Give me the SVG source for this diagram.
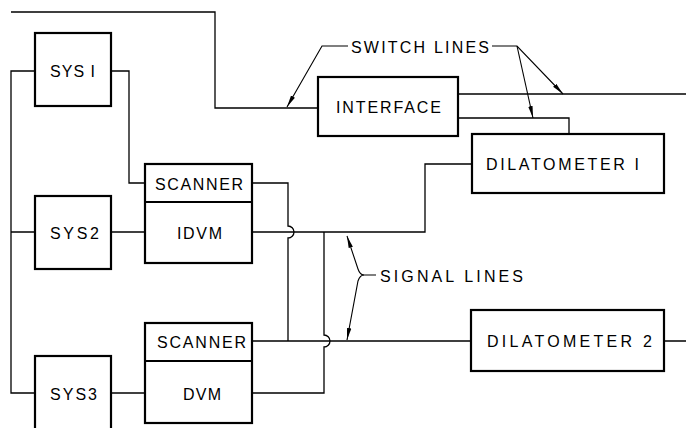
<svg xmlns="http://www.w3.org/2000/svg" width="686" height="428" viewBox="0 0 686 428">
<style>
.box{fill:#fff;stroke:#000;stroke-width:2.2}
.ln{fill:none;stroke:#000;stroke-width:1.3}
.ld{fill:none;stroke:#000;stroke-width:1.1}
text{font-family:"Liberation Sans","DejaVu Sans",Arial,sans-serif;font-size:16px;fill:#000}
</style>
<defs>
<marker id="ah" viewBox="0 0 12 6" refX="12" refY="3" markerWidth="12" markerHeight="6" markerUnits="userSpaceOnUse" orient="auto">
<path d="M0,0.8 L12,3 L0,5.2 z" fill="#000"/>
</marker>
</defs>
<rect width="686" height="428" fill="#fff"/>
<g id="connectors">
<path class="ln" d="M35,71 H11 V393 H35 M11,232 H35"/>
<path class="ln" d="M11,12 H215 V108 H318"/>
<path class="ln" d="M111,71 H129 V183 H145"/>
<path class="ln" d="M111,232 H145"/>
<path class="ln" d="M111,393 H145"/>
<path class="ln" d="M458,94 H686"/>
<path class="ln" d="M458,118 H569 V134"/>
<path class="ln" d="M252,232 H425 V164 H472"/>
<path class="ln" d="M252,183 H288 V226 A6,6 0 0 1 288,238 V341"/>
<path class="ln" d="M324,232 V335 A6,6 0 0 1 324,347 V393 H252"/>
<path class="ln" d="M252,341 H471 M664,341 H686"/>
</g>
<g id="switch-lines-label">
<path class="ld" d="M348,46 H322 L287,107" marker-end="url(#ah)"/>
<path class="ld" d="M492,46 H517 L563,94" marker-end="url(#ah)"/>
<path class="ld" d="M517,46 L533,118" marker-end="url(#ah)"/>
<text x="351" y="53" textLength="138" lengthAdjust="spacing">SWITCH LINES</text>
</g>
<g id="signal-lines-label">
<path class="ld" d="M376,275 H364 Q360,275 358,269 L347,236" marker-end="url(#ah)"/>
<path class="ld" d="M364,275 Q360,275 358,281 L347,340" marker-end="url(#ah)"/>
<text x="380" y="282" textLength="143" lengthAdjust="spacing">SIGNAL LINES</text>
</g>
<g id="sys1">
<rect class="box" x="35" y="33" width="76" height="73"/>
<text x="50" y="77" textLength="45" lengthAdjust="spacing">SYS I</text>
</g>
<g id="sys2">
<rect class="box" x="35" y="196" width="76" height="73"/>
<text x="50" y="239" textLength="49" lengthAdjust="spacing">SYS2</text>
</g>
<g id="sys3">
<rect class="box" x="35" y="356" width="76" height="80"/>
<text x="50" y="400" textLength="47" lengthAdjust="spacing">SYS3</text>
</g>
<g id="scanner-idvm">
<rect class="box" x="145" y="164" width="107" height="99" stroke-width="2.6"/>
<line x1="145" y1="202" x2="252" y2="202" stroke="#000" stroke-width="2"/>
<text x="155" y="190" textLength="88" lengthAdjust="spacing">SCANNER</text>
<text x="177" y="239" textLength="45" lengthAdjust="spacing">IDVM</text>
</g>
<g id="scanner-dvm">
<rect class="box" x="145" y="323" width="107" height="100" stroke-width="2.6"/>
<line x1="145" y1="361" x2="252" y2="361" stroke="#000" stroke-width="2"/>
<text x="157" y="348" textLength="89" lengthAdjust="spacing">SCANNER</text>
<text x="183" y="400" textLength="38" lengthAdjust="spacing">DVM</text>
</g>
<g id="interface">
<rect class="box" x="318" y="77" width="140" height="59"/>
<text x="336" y="113" textLength="105" lengthAdjust="spacing">INTERFACE</text>
</g>
<g id="dilatometer1">
<rect class="box" x="472" y="134" width="192" height="59"/>
<text x="486" y="170" textLength="153" lengthAdjust="spacing">DILATOMETER I</text>
</g>
<g id="dilatometer2">
<rect class="box" x="471" y="310" width="193" height="61"/>
<text x="487" y="347" textLength="165" lengthAdjust="spacing">DILATOMETER 2</text>
</g>
</svg>
